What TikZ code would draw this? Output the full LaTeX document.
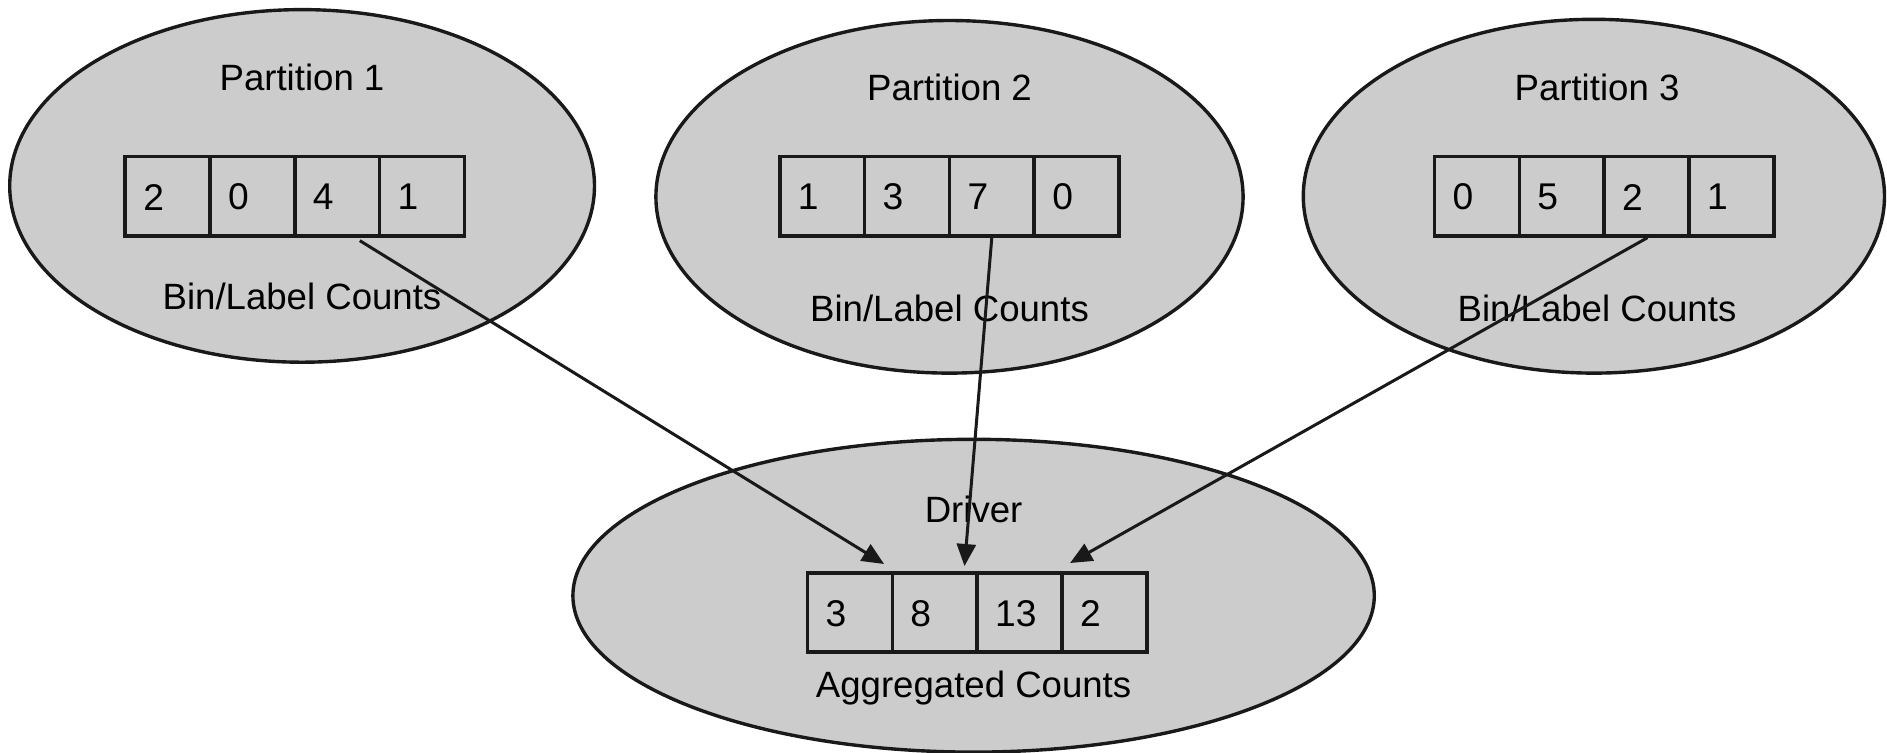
\documentclass[tikz,border=0pt]{standalone}
\usepackage{fontspec}
\setmainfont{Liberation Sans}
\usetikzlibrary{shapes.geometric,calc,arrows.meta}
\definecolor{bubble}{HTML}{CCCCCC}
\tikzset{
  part/.style={ellipse, draw=black!90, fill=bubble, line width=1.7pt, inner sep=0pt},
  cell/.style={rectangle, draw=black!90, line width=1.8pt, minimum width=42.4pt, minimum height=39.7pt, inner sep=0pt},
  digit/.style={anchor=west, inner sep=0pt, font=\fontsize{18.6}{22}\selectfont},
  lbl/.style={inner sep=0pt, font=\fontsize{18.3}{22}\selectfont},
  arr/.style={draw=black!90, line width=1.5pt, -{Triangle[length=11pt,width=9.5pt]}}
}
\begin{document}
\begin{tikzpicture}[x=0.5pt, y=-0.5pt]
\useasboundingbox (0,0) rectangle (1887,752);
\node[part, minimum width=292.4pt, minimum height=176.3pt] (e1) at (302.1,185.9) {};
\node[part, minimum width=293.6pt, minimum height=176.3pt] (e2) at (949.5,196.8) {};
\node[part, minimum width=290.6pt, minimum height=176.9pt] (e3) at (1593.9,196.2) {};
\node[part, minimum width=400.7pt, minimum height=156.4pt] (e4) at (973.6,595.7) {};
\node[lbl] (t1) at (302,77) {Partition 1};
\node[lbl] (t2) at (949.5,87.9) {Partition 2};
\node[lbl] (t3) at (1597,87.9) {Partition 3};
\node[lbl] (b1) at (302,296) {Bin/Label Counts};
\node[lbl] (b2) at (949.5,308) {Bin/Label Counts};
\node[lbl] (b3) at (1597,308) {Bin/Label Counts};
\node[lbl] (dr) at (973.6,509) {Driver};
\node[lbl] (ag) at (973.6,688) {Aggregated Counts};
\foreach \v [count=\i] in {2,0,4,1} {
  \node[cell] (p1c\i) at ({125.2+(\i-0.5)*84.8},196.15) {};
  \node[digit] (p1t\i) at ($(p1c\i.west)+(19.5,1)$) {\v};
}
\foreach \v [count=\i] in {1,3,7,0} {
  \node[cell] (p2c\i) at ({779.8+(\i-0.5)*84.8},196.15) {};
  \node[digit] (p2t\i) at ($(p2c\i.west)+(19.5,1)$) {\v};
}
\foreach \v [count=\i] in {0,5,2,1} {
  \node[cell] (p3c\i) at ({1434.5+(\i-0.5)*84.8},196.15) {};
  \node[digit] (p3t\i) at ($(p3c\i.west)+(19.5,1)$) {\v};
}
\foreach \v [count=\i] in {3,8,13,2} {
  \node[cell] (d\i) at ({807.5+(\i-0.5)*84.8},612.5) {};
  \node[digit] (dt\i) at ($(d\i.west)+(19.5,1)$) {\v};
}
\draw[arr] ($(p1c3.south)+(22.6,3)$) -- ($(d1.north east)+(-10,-7)$);
\draw[arr] ($(p2c3.south)+(0,0)$) -- ($(d2.north east)+(-14.4,-5)$);
\draw[arr] ($(p3c3.south)+(1,0)$) -- ($(d4.north west)+(10,-8)$);
\end{tikzpicture}
\end{document}
